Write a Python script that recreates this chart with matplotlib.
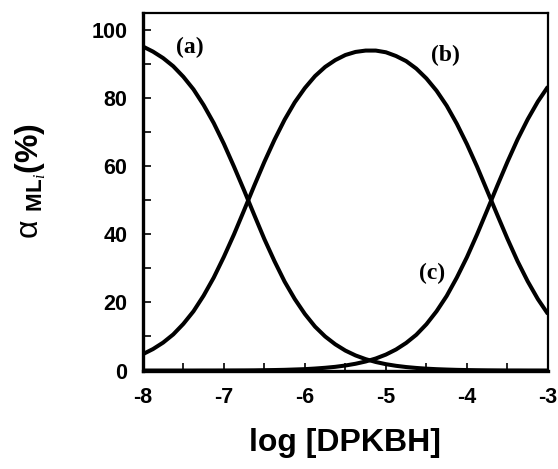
import numpy as np
import matplotlib.pyplot as plt
from matplotlib.ticker import MultipleLocator

# valori (frazioni percentuali delle specie)
log_dpkbh = [-8.0, -7.875, -7.75, -7.625, -7.5, -7.375, -7.25, -7.125, -7.0, -6.875,
             -6.75, -6.625, -6.5, -6.375, -6.25, -6.125, -6.0, -5.875, -5.75, -5.625,
             -5.5, -5.375, -5.25, -5.125, -5.0, -4.875, -4.75, -4.625, -4.5, -4.375,
             -4.25, -4.125, -4.0, -3.875, -3.75, -3.625, -3.5, -3.375, -3.25, -3.125, -3.0]
curve_a = [95.2, 93.7, 91.8, 89.4, 86.3, 82.6, 78.0, 72.7, 66.6, 59.9,
           52.9, 45.7, 38.6, 32.1, 26.1, 21.0, 16.6, 12.9, 10.0, 7.7,
           5.85, 4.43, 3.34, 2.50, 1.86, 1.38, 1.02, 0.75, 0.54, 0.39,
           0.28, 0.19, 0.13, 0.09, 0.06, 0.04, 0.02, 0.02, 0.01, 0.01, 0.0]
curve_b = [4.8, 6.3, 8.2, 10.6, 13.7, 17.4, 22.0, 27.3, 33.4, 40.0,
           47.1, 54.3, 61.3, 67.8, 73.7, 78.8, 83.0, 86.5, 89.2, 91.2,
           92.7, 93.6, 94.0, 94.0, 93.5, 92.4, 90.9, 88.7, 85.8, 82.2,
           77.8, 72.5, 66.5, 59.9, 52.8, 45.7, 38.7, 32.1, 26.2, 21.0, 16.6]
curve_c = [0.0, 0.0, 0.0, 0.0, 0.0, 0.0, 0.01, 0.01, 0.02, 0.03,
           0.04, 0.06, 0.1, 0.14, 0.2, 0.3, 0.4, 0.58, 0.8, 1.08,
           1.47, 1.98, 2.65, 3.53, 4.68, 6.18, 8.1, 10.5, 13.6, 17.4,
           21.9, 27.3, 33.3, 40.0, 47.1, 54.3, 61.3, 67.9, 73.8, 79.0, 83.4]

labels = ['(a)', '(b)', '(c)']
label_pos = [(-7.42, 95.0), (-4.27, 92.5), (-4.43, 28.5)]

plt.rcParams['axes.unicode_minus'] = False
plt.rcParams['mathtext.fontset'] = 'custom'
plt.rcParams['mathtext.rm'] = 'Liberation Sans'
plt.rcParams['mathtext.bf'] = 'Liberation Sans:bold'
plt.rcParams['mathtext.it'] = 'Liberation Serif:italic'

fig = plt.figure(figsize=(5.58, 4.69), dpi=100)
ax = fig.add_axes([0.256, 0.21, 0.726, 0.762])

for y in (curve_a, curve_b, curve_c):
    ax.plot(log_dpkbh, y, color='black', lw=2.9, solid_capstyle='butt')

for lab, (xx, yy) in zip(labels, label_pos):
    ax.text(xx, yy, lab, fontsize=17, fontweight='bold', family='Liberation Serif',
            ha='center', va='center')

ax.set_xlim(-8, -3)
ax.set_ylim(0, 105)
ax.xaxis.set_major_locator(MultipleLocator(1))
ax.xaxis.set_minor_locator(MultipleLocator(0.5))
ax.yaxis.set_major_locator(MultipleLocator(20))
ax.yaxis.set_minor_locator(MultipleLocator(10))
ax.tick_params(which='both', direction='in', length=6, width=1.2,
               top=False, right=False)
ax.tick_params(axis='x', labelsize=15.5, pad=12)
ax.tick_params(axis='y', labelsize=15.5, pad=11)
for lab in ax.get_xticklabels() + ax.get_yticklabels():
    lab.set_fontweight('bold')
    lab.set_family('Liberation Sans')

ax.spines['left'].set_linewidth(2.4)
ax.spines['bottom'].set_linewidth(2.4)
ax.spines['top'].set_linewidth(1.6)
ax.spines['right'].set_linewidth(1.6)

ax.set_xlabel('log [DPKBH]', fontsize=23, fontweight='bold', family='Liberation Sans')
ax.xaxis.set_label_coords(0.5, -0.16)
ax.set_ylabel(r'$\mathrm{\alpha}$ $_{\mathbf{ML}_{\mathit{i}}}$(%)', fontsize=23,
              fontweight='bold', family='Liberation Sans')
ax.yaxis.set_label_coords(-0.235, 0.53)

fig.savefig('out.png', dpi=100)
